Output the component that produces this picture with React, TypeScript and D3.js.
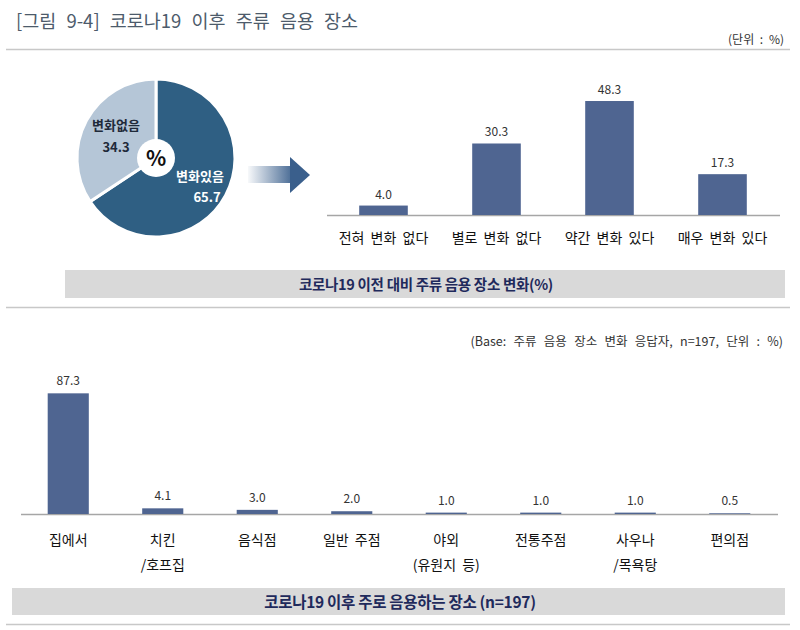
import React from "react";
import * as d3 from "d3";

const pieLabels = ["변화있음", "변화없음"];
const pieValues = [65.7, 34.3];

const topCategories = ["전혀 변화 없다", "별로 변화 없다", "약간 변화 있다", "매우 변화 있다"];
const topValues = [4.0, 30.3, 48.3, 17.3];

const bottomCategories = [
  ["집에서"],
  ["치킨", "/호프집"],
  ["음식점"],
  ["일반 주점"],
  ["야외", "(유원지 등)"],
  ["전통주점"],
  ["사우나", "/목욕탕"],
  ["편의점"],
];
const bottomValues = [87.3, 4.1, 3.0, 2.0, 1.0, 1.0, 1.0, 0.5];

const title = "[그림 9-4] 코로나19 이후 주류 음용 장소";
const unitText = "(단위 : %)";
const topCaption = "코로나19 이전 대비 주류 음용 장소 변화(%)";
const baseText = "(Base: 주류 음용 장소 변화 응답자, n=197, 단위 : %)";
const bottomCaption = "코로나19 이후 주로 음용하는 장소 (n=197)";

const FONT = "'Noto Sans CJK KR', 'Noto Sans', sans-serif";
const BAR = "#4f6591";
const AXIS = "#a6a6a6";

export default function App() {
  // pie
  const cx = 156, cy = 158, r = 79;
  const pie = d3.pie<number>().sort(null).startAngle(0).endAngle(2 * Math.PI)(pieValues);
  const arc = d3.arc<d3.PieArcDatum<number>>().innerRadius(0).outerRadius(r);
  const pieColors = ["#2f5f83", "#b5c6d7"];

  // top bars
  const xTop = d3.scaleBand<string>().domain(topCategories).range([327, 779]).paddingInner(0.57).paddingOuter(0.285);
  const yTop = d3.scaleLinear().domain([0, 50]).range([215, 97]);

  // bottom bars
  const xBot = d3.scaleBand<string>().domain(bottomCategories.map((c) => c.join(""))).range([21, 777]).paddingInner(0.565).paddingOuter(0.2825);
  const yBot = d3.scaleLinear().domain([0, 90]).range([514, 389.6]);

  return (
    <svg width={800} height={630} style={{ position: "absolute", left: 0, top: 0, background: "#fff" }} fontFamily={FONT}>
      <defs>
        <linearGradient id="arrowGrad" x1="246" x2="296" y1="0" y2="0" gradientUnits="userSpaceOnUse">
          <stop offset="0" stopColor="#ffffff" />
          <stop offset="1" stopColor="#3a5f8c" />
        </linearGradient>
      </defs>
      <rect x={0} y={0} width={800} height={630} fill="#fff" />
      {/* title */}
      <text x={16} y={28} fontSize={18.5} fill="#4d5b6b" wordSpacing={6}>{title}</text>
      <line x1={6} x2={790} y1={49.5} y2={49.5} stroke="#c8c8c8" strokeWidth={1.5} />
      <text x={784} y={44} fontSize={12} fill="#333" textAnchor="end" wordSpacing={3}>{unitText}</text>

      {/* pie */}
      <g transform={`translate(${cx},${cy})`}>
        {pie.map((d, i) => (
          <path key={i} d={arc(d) || ""} fill={pieColors[i]} stroke="#fff" strokeWidth={3} />
        ))}
        <circle r={19} fill="#fff" />
        <text x={0} y={8} textAnchor="middle" fontSize={21} fontWeight="bold" fill="#111">%</text>
      </g>
      <text x={116} y={130} textAnchor="middle" fontSize={13} fontWeight="bold" fill="#1f2a3a">{pieLabels[1]}</text>
      <text x={116} y={152} textAnchor="middle" fontSize={13} fontWeight="bold" fill="#1f2a3a">{pieValues[1].toFixed(1)}</text>
      <text x={200} y={181} textAnchor="middle" fontSize={13} fontWeight="bold" fill="#fff">{pieLabels[0]}</text>
      <text x={207} y={202} textAnchor="middle" fontSize={13} fontWeight="bold" fill="#fff">{pieValues[0].toFixed(1)}</text>

      {/* arrow */}
      <rect x={248} y={166} width={43} height={17} fill="url(#arrowGrad)" />
      <path d="M290,157 L310,175 L290,193 Z" fill="#3a5f8c" />

      {/* top bar chart */}
      <line x1={327} x2={780} y1={215.5} y2={215.5} stroke={AXIS} strokeWidth={1.5} />
      {topCategories.map((c, i) => (
        <g key={c}>
          <rect x={xTop(c)} y={yTop(topValues[i])} width={xTop.bandwidth()} height={215 - yTop(topValues[i])} fill={BAR} />
          <text x={(xTop(c) || 0) + xTop.bandwidth() / 2} y={yTop(topValues[i]) - 7} textAnchor="middle" fontSize={12} fill="#333">{topValues[i].toFixed(1)}</text>
          <text x={(xTop(c) || 0) + xTop.bandwidth() / 2} y={243} textAnchor="middle" fontSize={14} fill="#111" wordSpacing={3}>{c}</text>
        </g>
      ))}
      <rect x={65} y={270} width={720} height={28} fill="#d9d9d9" />
      <text x={426} y={289.5} textAnchor="middle" fontSize={14.5} fontWeight="bold" fill="#1f2a5c" letterSpacing={-0.3}>{topCaption}</text>
      <line x1={6} x2={790} y1={307.5} y2={307.5} stroke="#c8c8c8" strokeWidth={1.5} />

      {/* bottom chart */}
      <text x={783} y={346} textAnchor="end" fontSize={12.5} fill="#333" wordSpacing={4.5}>{baseText}</text>
      <line x1={21} x2={778} y1={514.5} y2={514.5} stroke={AXIS} strokeWidth={1.5} />
      {bottomCategories.map((lines, i) => {
        const key = lines.join("");
        const x = (xBot(key) || 0) + xBot.bandwidth() / 2;
        return (
          <g key={key}>
            <rect x={xBot(key)} y={yBot(bottomValues[i])} width={xBot.bandwidth()} height={514 - yBot(bottomValues[i])} fill={BAR} />
            <text x={x} y={yBot(bottomValues[i]) - 8} textAnchor="middle" fontSize={12} fill="#333">{bottomValues[i].toFixed(1)}</text>
            {lines.map((l, j) => (
              <text key={j} x={x} y={545 + j * 25} textAnchor="middle" fontSize={14} fill="#111" wordSpacing={3}>{l}</text>
            ))}
          </g>
        );
      })}
      <rect x={12} y={588} width={773} height={27} fill="#d9d9d9" />
      <text x={400} y={607.5} textAnchor="middle" fontSize={15.5} fontWeight="bold" fill="#1f2a5c" letterSpacing={-0.3}>{bottomCaption}</text>
      <line x1={6} x2={790} y1={624.5} y2={624.5} stroke="#c8c8c8" strokeWidth={1.5} />
    </svg>
  );
}
